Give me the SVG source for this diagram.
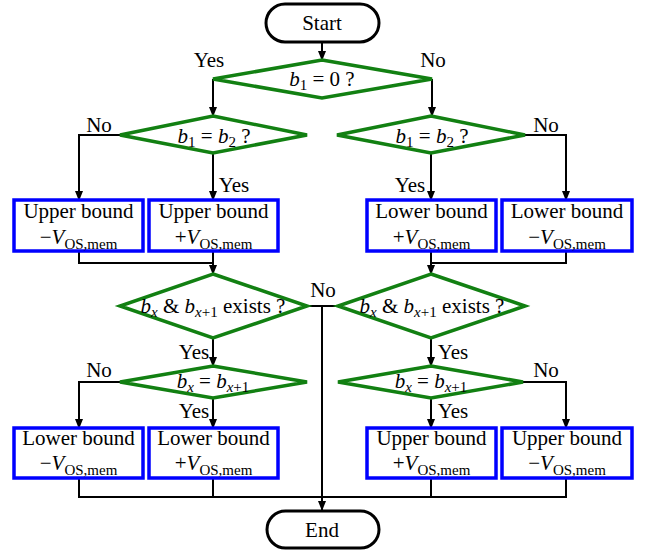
<svg xmlns="http://www.w3.org/2000/svg" width="646" height="553" viewBox="0 0 646 553" font-family="Liberation Serif, DejaVu Serif, serif">
<defs>
<marker id="arr" markerWidth="10" markerHeight="8" refX="9" refY="4" orient="auto" markerUnits="userSpaceOnUse">
<path d="M0,0 L10,4 L0,8 Z" fill="#000"/>
</marker>
<style>
text{font-family:'Liberation Serif','DejaVu Serif',serif;font-size:21px;fill:#000}
.t{text-anchor:middle}
.i{font-style:italic}
.s{font-size:15px}
.term{fill:#fff;stroke:#000;stroke-width:3}
.dec{fill:#fff;stroke:#128012;stroke-width:3.5}
.box{fill:#fff;stroke:#0000ff;stroke-width:3.5}
.c{fill:none;stroke:#000;stroke-width:2}
.a{marker-end:url(#arr)}
</style>
</defs>
<g id="connectors">
<path class="c a" d="M322,43 V60"/>
<path class="c a" d="M213,79 V116"/>
<path class="c a" d="M432,79 V116"/>
<path class="c a" d="M120,135 H79 V200"/>
<path class="c a" d="M213,153 V200"/>
<path class="c a" d="M431,153 V200"/>
<path class="c a" d="M525,135 H566 V200"/>
<path class="c" d="M79,251 V263 H213"/>
<path class="c a" d="M213,251 V274"/>
<path class="c" d="M566,251 V263 H431"/>
<path class="c a" d="M431,251 V274"/>
<path class="c a" d="M213,338 V366"/>
<path class="c a" d="M431,338 V366"/>
<path class="c" d="M307,306 H338"/>
<path class="c a" d="M322,306 V510"/>
<path class="c a" d="M120,382 H79 V428"/>
<path class="c a" d="M213,398 V428"/>
<path class="c a" d="M431,398 V428"/>
<path class="c a" d="M523,382 H566 V428"/>
<path class="c" d="M79,478 V497 H566 V478"/>
<path class="c" d="M213,478 V497"/>
<path class="c" d="M431,478 V497"/>
</g>
<g id="labels">
<text x="209" y="67" class="t">Yes</text>
<text x="433" y="67" class="t">No</text>
<text x="99" y="132" class="t">No</text>
<text x="234" y="192" class="t">Yes</text>
<text x="410" y="192" class="t">Yes</text>
<text x="546" y="132" class="t">No</text>
<text x="323" y="297" class="t">No</text>
<text x="194" y="359" class="t">Yes</text>
<text x="453" y="359" class="t">Yes</text>
<text x="99" y="377" class="t">No</text>
<text x="546" y="377" class="t">No</text>
<text x="194" y="418" class="t">Yes</text>
<text x="453" y="418" class="t">Yes</text>
</g>
<g id="start">
<rect class="term" x="266" y="4" width="113" height="38" rx="19"/>
<text x="322" y="30" class="t">Start</text>
</g>
<g id="end">
<rect class="term" x="267" y="511" width="112" height="37" rx="18.5"/>
<text x="322" y="537" class="t">End</text>
</g>
<g id="d1">
<polygon class="dec" points="322,60 432,79 322,98 213,79"/>
<text x="322" y="86" class="t"><tspan class="i">b</tspan><tspan class="s" dy="4">1</tspan><tspan dy="-4"> = 0 ?</tspan></text>
</g>
<g id="d2l">
<polygon class="dec" points="213,116 307,135 213,153 120,135"/>
<text x="214" y="143" class="t"><tspan class="i">b</tspan><tspan class="s" dy="4">1</tspan><tspan dy="-4"> = </tspan><tspan class="i">b</tspan><tspan class="s" dy="4">2</tspan><tspan dy="-4"> ?</tspan></text>
</g>
<g id="d2r">
<polygon class="dec" points="431,116 525,135 431,153 337,135"/>
<text x="432" y="143" class="t"><tspan class="i">b</tspan><tspan class="s" dy="4">1</tspan><tspan dy="-4"> = </tspan><tspan class="i">b</tspan><tspan class="s" dy="4">2</tspan><tspan dy="-4"> ?</tspan></text>
</g>
<g id="b1">
<rect class="box" x="14" y="200" width="129" height="51"/>
<text x="78.5" y="218" class="t">Upper bound</text>
<text x="78.5" y="244" class="t">−<tspan class="i">V</tspan><tspan class="s" dy="5">OS,mem</tspan></text>
</g>
<g id="b2">
<rect class="box" x="149" y="200" width="129" height="51"/>
<text x="213.5" y="218" class="t">Upper bound</text>
<text x="213.5" y="244" class="t">+<tspan class="i">V</tspan><tspan class="s" dy="5">OS,mem</tspan></text>
</g>
<g id="b3">
<rect class="box" x="367" y="200" width="129" height="51"/>
<text x="431.5" y="218" class="t">Lower bound</text>
<text x="431.5" y="244" class="t">+<tspan class="i">V</tspan><tspan class="s" dy="5">OS,mem</tspan></text>
</g>
<g id="b4">
<rect class="box" x="502" y="200" width="130" height="51"/>
<text x="567" y="218" class="t">Lower bound</text>
<text x="567" y="244" class="t">−<tspan class="i">V</tspan><tspan class="s" dy="5">OS,mem</tspan></text>
</g>
<g id="d3l">
<polygon class="dec" points="213,274 307,306 213,338 120,306"/>
<text x="213" y="313" class="t"><tspan class="i">b</tspan><tspan class="s i" dy="4">x</tspan><tspan dy="-4"> &amp; </tspan><tspan class="i">b</tspan><tspan class="s i" dy="4">x</tspan><tspan class="s">+1</tspan><tspan dy="-4"> exists ?</tspan></text>
</g>
<g id="d3r">
<polygon class="dec" points="431,274 525,306 431,338 338,306"/>
<text x="432" y="313" class="t"><tspan class="i">b</tspan><tspan class="s i" dy="4">x</tspan><tspan dy="-4"> &amp; </tspan><tspan class="i">b</tspan><tspan class="s i" dy="4">x</tspan><tspan class="s">+1</tspan><tspan dy="-4"> exists ?</tspan></text>
</g>
<g id="d4l">
<polygon class="dec" points="213,366 307,382 213,398 120,382"/>
<text x="213" y="388" class="t"><tspan class="i">b</tspan><tspan class="s i" dy="4">x</tspan><tspan dy="-4"> = </tspan><tspan class="i">b</tspan><tspan class="s i" dy="4">x</tspan><tspan class="s">+1</tspan></text>
</g>
<g id="d4r">
<polygon class="dec" points="431,366 523,382 431,398 338,382"/>
<text x="431" y="388" class="t"><tspan class="i">b</tspan><tspan class="s i" dy="4">x</tspan><tspan dy="-4"> = </tspan><tspan class="i">b</tspan><tspan class="s i" dy="4">x</tspan><tspan class="s">+1</tspan></text>
</g>
<g id="b5">
<rect class="box" x="14" y="428" width="129" height="50"/>
<text x="78.5" y="445" class="t">Lower bound</text>
<text x="78.5" y="470" class="t">−<tspan class="i">V</tspan><tspan class="s" dy="5">OS,mem</tspan></text>
</g>
<g id="b6">
<rect class="box" x="149" y="428" width="129" height="50"/>
<text x="213.5" y="445" class="t">Lower bound</text>
<text x="213.5" y="470" class="t">+<tspan class="i">V</tspan><tspan class="s" dy="5">OS,mem</tspan></text>
</g>
<g id="b7">
<rect class="box" x="367" y="428" width="129" height="50"/>
<text x="431.5" y="445" class="t">Upper bound</text>
<text x="431.5" y="470" class="t">+<tspan class="i">V</tspan><tspan class="s" dy="5">OS,mem</tspan></text>
</g>
<g id="b8">
<rect class="box" x="502" y="428" width="130" height="50"/>
<text x="567" y="445" class="t">Upper bound</text>
<text x="567" y="470" class="t">−<tspan class="i">V</tspan><tspan class="s" dy="5">OS,mem</tspan></text>
</g>
</svg>
